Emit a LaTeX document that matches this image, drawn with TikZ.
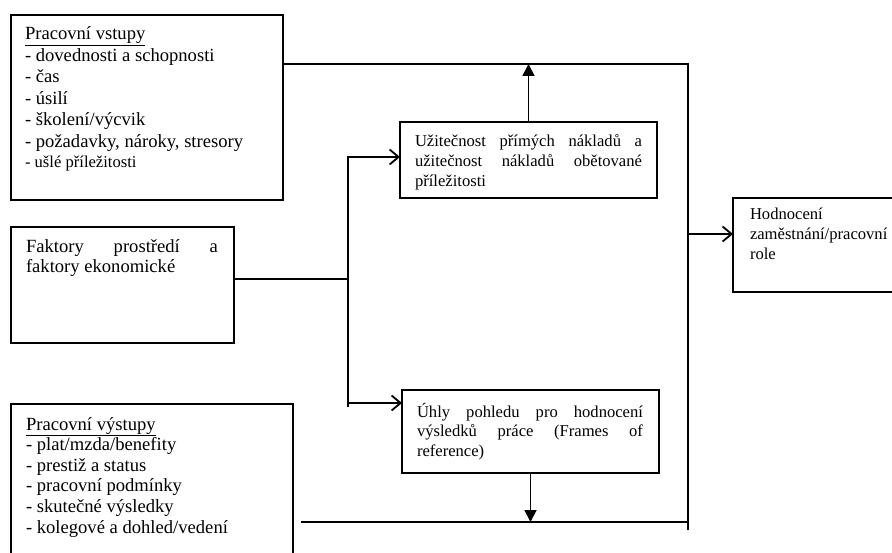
\documentclass[tikz,border=0pt]{standalone}
\usepackage{fontspec}
\setmainfont{Liberation Serif}
\usetikzlibrary{arrows.meta}
\newcommand\fntA{\fontsize{18.6}{21.5}\selectfont}
\newcommand\fntB{\fontsize{16.6}{19.7}\selectfont}
\newcommand\fntC{\fontsize{18.6}{20.6}\selectfont}
\newcommand\fntD{\fontsize{18.6}{20}\selectfont}
\begin{document}
\begin{tikzpicture}[x=1pt,y=-1pt,
  box/.style={draw, line width=1.3pt, inner sep=0pt, outer sep=0pt, anchor=north west},
  txt/.style={anchor=north west, inner sep=0pt, outer sep=0pt, align=left, text=black},
  conn/.style={line width=1.3pt},
  arr/.style={line width=1.8pt},
  barb/.style={-{Straight Barb[length=9pt,width=15pt]}},
  tri/.style={-{Triangle[length=12pt,width=12pt]}}]
\useasboundingbox (0,0) rectangle (892,553);
\clip (0,0) rectangle (892,553);
\fill[white] (0,0) rectangle (892,553);

% boxes
\node[box, minimum width=272pt, minimum height=185pt] (in) at (11,15) {};
\node[box, minimum width=223pt, minimum height=116pt] (fak) at (11,227) {};
\node[box, minimum width=282pt, minimum height=170pt] (out) at (11,404) {};
\node[box, minimum width=257pt, minimum height=76pt] (u) at (400,122) {};
\node[box, minimum width=257pt, minimum height=83pt] (uh) at (402,390) {};
\node[box, minimum width=170pt, minimum height=94pt] (ho) at (733,198) {};

% texts
\node[txt, font=\fntA] (tin) at (25,24) {\rule{0pt}{16pt}\underline{Pracovní vstupy}\\- dovednosti a schopnosti\\- čas\\- úsilí\\- školení/výcvik\\- požadavky, nároky, stresory\\[-1pt]{\fntB - ušlé příležitosti}};
\node[txt, font=\fntD] (tfak) at (26,237) {\rule{0pt}{16pt}\makebox[192pt][s]{Faktory prostředí a}\\faktory ekonomické};
\node[txt, font=\fntC] (tout) at (26,414) {\rule{0pt}{16pt}\underline{Pracovní výstupy}\\- plat/mzda/benefity\\- prestiž a status\\- pracovní podmínky\\- skutečné výsledky\\- kolegové a dohled/vedení};
\node[txt, font=\fntB] (tu) at (415,131.7) {\rule{0pt}{15pt}\makebox[227pt][s]{Užitečnost přímých nákladů a}\\\makebox[227pt][s]{užitečnost nákladů obětované}\\příležitosti};
\node[txt, font=\fntB] (tuh) at (417,402) {\rule{0pt}{15pt}\makebox[226pt][s]{Úhly pohledu pro hodnocení}\\\makebox[226pt][s]{výsledků práce (Frames of}\\reference)};
\node[txt, font=\fntB] (tho) at (750,205) {\rule{0pt}{15pt}Hodnocení\\zaměstnání/pracovní\\role};

% junctions
\coordinate (tr) at (688,64);
\coordinate (br) at (688,530);
\coordinate (bl) at (301,522);
\coordinate (jt) at (348,157);
\coordinate (jb) at (348,407);
\coordinate (jm) at (348,403);
\coordinate (fk) at (348,279);
\coordinate (hj) at (688,234);

% connectors
\draw[conn] (in.east |- tr) -- (tr) -- (br);
\draw[conn] (bl) -- (tr |- bl);
\draw[conn] ([yshift=6pt]fak.east) -- (fk);
\draw[arr, barb] (jb) -- (jt) -- (u.west |- jt);
\draw[arr, barb] (jm) -- (uh.west |- jm);
\draw[arr, tri] (u.north) -- (u.north |- tr);
\draw[arr, tri] (uh.south) -- (uh.south |- bl);
\draw[arr, barb] (hj) -- (ho.west |- hj);
\end{tikzpicture}
\end{document}
